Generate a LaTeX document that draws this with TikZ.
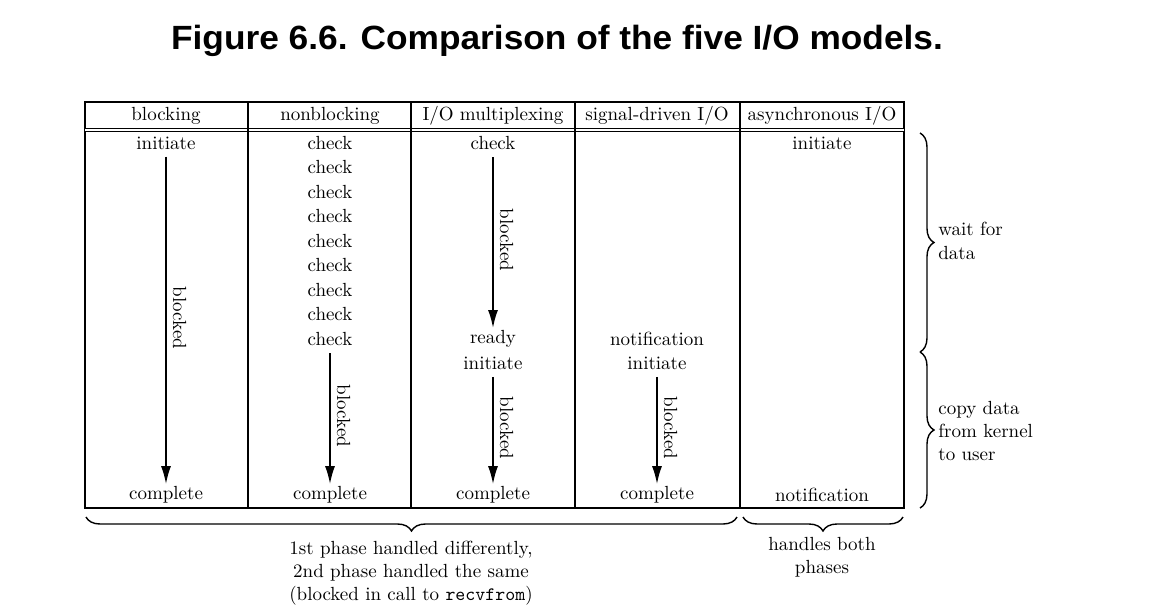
\documentclass[tikz,border=0pt]{standalone}
\usepackage{fontspec}
\newfontfamily\titlefont{Liberation Sans}
\usetikzlibrary{arrows.meta,decorations.pathreplacing}
\tikzset{
  lbl/.style={inner sep=1pt, font=\fontsize{9.5}{11.6}\selectfont},
  blk/.style={line width=0.9pt, shorten <=2.5pt, -{Latex[length=9pt,width=5pt]}},
  blab/.style={lbl, rotate=-90, anchor=south, inner sep=3pt},
  grid/.style={line width=0.9pt},
  brc/.style={decorate, decoration={brace, amplitude=7pt}, line width=0.7pt},
}
\begin{document}
\begin{tikzpicture}[x=0.5pt,y=-0.5pt]
\useasboundingbox (0,0) rectangle (1153,616);
% title
\node[font=\titlefont\bfseries\fontsize{16.8}{20}\selectfont, xscale=1.05] (title) at (557,41) {Figure 6.6. Comparison of the five I/O models.};
% table frame
\draw[grid] (85,102) rectangle (904,508);
\draw[line width=0.5pt, double, double distance=0.6pt] (85,130) -- (904,130);
\foreach \x in {248,411,575,740}
  \draw[grid] (\x,102) -- (\x,508);
% headers
\node[lbl] (h1) at (166,116) {blocking};
\node[lbl] (h2) at (330,116) {nonblocking};
\node[lbl] (h3) at (493,116) {I/O multiplexing};
\node[lbl] (h4) at (657,116) {signal-driven I/O};
\node[lbl] (h5) at (822,116) {asynchronous I/O};
% blocking
\node[lbl] (bl0) at (166,143) {initiate};
\node[lbl] (bl1) at (166,495) {complete};
\draw[blk] (bl0) -- node[blab] {blocked} (bl1);
% nonblocking
\foreach \k in {0,...,8}
  \node[lbl] (nb\k) at (330,{143+24.5*\k}) {check};
\node[lbl] (nbc) at (330,495) {complete};
\draw[blk] (nb8) -- node[blab] {blocked} (nbc);
% I/O multiplexing
\node[lbl] (mx0) at (493,143) {check};
\node[lbl] (mx1) at (493,339) {ready};
\node[lbl] (mx2) at (493,363) {initiate};
\node[lbl] (mx3) at (493,495) {complete};
\draw[blk] (mx0) -- node[blab] {blocked} (mx1);
\draw[blk] (mx2) -- node[blab] {blocked} (mx3);
% signal-driven I/O
\node[lbl] (sg0) at (657,339) {notification};
\node[lbl] (sg1) at (657,363) {initiate};
\node[lbl] (sg2) at (657,495) {complete};
\draw[blk] (sg1) -- node[blab] {blocked} (sg2);
% asynchronous I/O
\node[lbl] (as0) at (822,143) {initiate};
\node[lbl] (as1) at (822,495) {notification};
% braces on the right
\coordinate (r0) at (920,133);
\coordinate (r1) at (920,352);
\coordinate (r2) at (920,508);
\draw[brc] (r0) -- (r1);
\draw[brc] (r1) -- (r2);
\node[lbl, align=left, anchor=west] (wait) at (936,241) {wait for\\data};
\node[lbl, align=left, anchor=west] (copy) at (936,431) {copy data\\from kernel\\to user};
% braces below
\coordinate (b0) at (86,517);
\coordinate (b1) at (737,517);
\coordinate (b2) at (743,517);
\coordinate (b3) at (903,517);
\draw[brc] (b1) -- (b0);
\draw[brc] (b3) -- (b2);
\node[lbl, align=center] (phase) at (411,573) {1st phase handled differently,\\2nd phase handled the same\\(blocked in call to \texttt{recvfrom})};
\node[lbl, align=center] (both) at (822,557) {handles both\\phases};
\end{tikzpicture}
\end{document}
